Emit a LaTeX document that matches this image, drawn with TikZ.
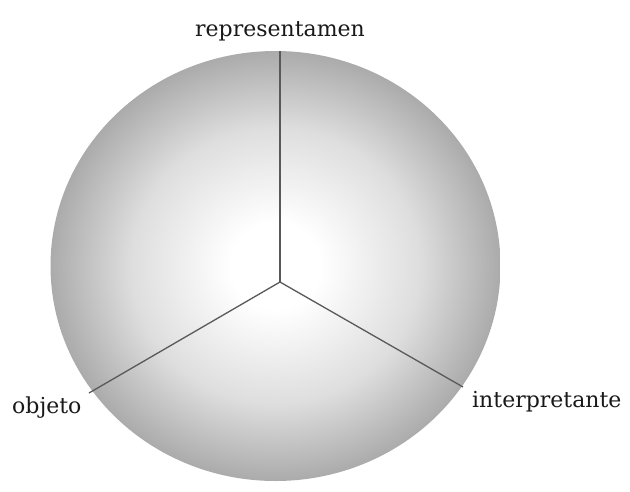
\documentclass[tikz,border=0pt]{standalone}
\usepackage{fontspec}
\setmainfont{DejaVu Serif}
\pgfdeclareradialshading{ballshade}{\pgfpoint{0bp}{0bp}}{color(0bp)=(white); color(5bp)=(white); color(16bp)=(black!13); color(25bp)=(black!33); color(50bp)=(black!33)}
\begin{document}
\begin{tikzpicture}[x=1pt,y=-1pt,
  spoke/.style={draw=black!65, line width=1.3pt},
  lbl/.style={inner sep=0pt, text=black!90, font=\fontsize{22}{26}\selectfont}]
\useasboundingbox (0,0) rectangle (630,491);
\shade[shading=ballshade] (275.5,266) ellipse [x radius=225pt, y radius=215pt];
\coordinate (c) at (280,282);
\coordinate (top) at (280,51);
\coordinate (lft) at (89,393);
\coordinate (rgt) at (463,387);
\draw[spoke] (c) -- (top);
\draw[spoke] (c) -- (lft);
\draw[spoke] (c) -- (rgt);
\node[lbl, anchor=base] (rep) at (280,36) {representamen};
\node[lbl, anchor=base west] (obj) at (12,413) {objeto};
\node[lbl, anchor=base west] (int) at (472,407) {interpretante};
\end{tikzpicture}
\end{document}
